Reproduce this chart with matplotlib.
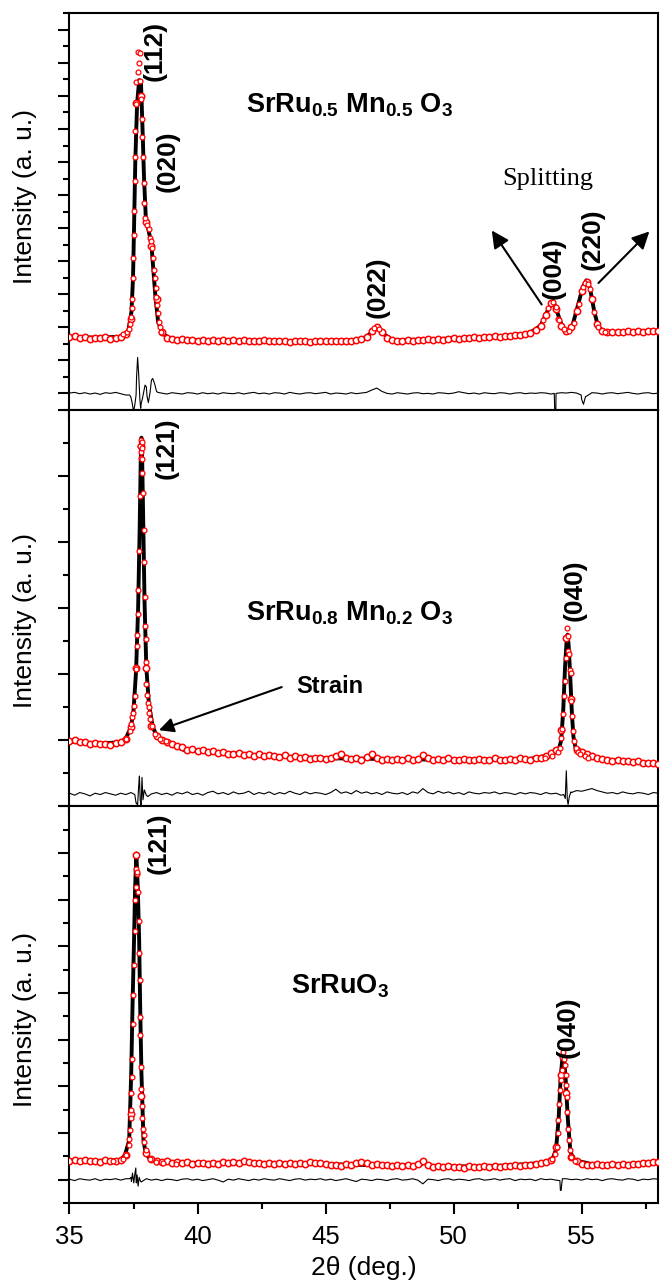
import numpy as np
import matplotlib
matplotlib.use("Agg")
import matplotlib.pyplot as plt
from matplotlib.ticker import MultipleLocator

plt.rcParams['font.family'] = ['Liberation Sans', 'DejaVu Sans']
plt.rcParams['mathtext.fontset'] = 'custom'
plt.rcParams['mathtext.rm'] = 'Liberation Sans'
plt.rcParams['mathtext.bf'] = 'Liberation Sans:bold'
plt.rcParams['mathtext.default'] = 'bf'

# 2theta sampling grid (deg), shared by the background reads of all panels
two_theta = [
    35.0, 35.2, 35.4, 35.6, 35.8, 36.0, 36.2, 36.4, 36.6, 36.8,
    37.0, 37.2, 37.4, 37.6, 37.8, 38.0, 38.2, 38.4, 38.6, 38.8,
    39.0, 39.2, 39.4, 39.6, 39.8, 40.0, 40.2, 40.4, 40.6, 40.8,
    41.0, 41.2, 41.4, 41.6, 41.8, 42.0, 42.2, 42.4, 42.6, 42.8,
    43.0, 43.2, 43.4, 43.6, 43.8, 44.0, 44.2, 44.4, 44.6, 44.8,
    45.0, 45.2, 45.4, 45.6, 45.8, 46.0, 46.2, 46.4, 46.6, 46.8,
    47.0, 47.2, 47.4, 47.6, 47.8, 48.0, 48.2, 48.4, 48.6, 48.8,
    49.0, 49.2, 49.4, 49.6, 49.8, 50.0, 50.2, 50.4, 50.6, 50.8,
    51.0, 51.2, 51.4, 51.6, 51.8, 52.0, 52.2, 52.4, 52.6, 52.8,
    53.0, 53.2, 53.4, 53.6, 53.8, 54.0, 54.2, 54.4, 54.6, 54.8,
    55.0, 55.2, 55.4, 55.6, 55.8, 56.0, 56.2, 56.4, 56.6, 56.8,
    57.0, 57.2, 57.4, 57.6, 57.8, 58.0,
]

# ---------------- SrRu0.5Mn0.5O3 (top) ----------------
mn05_obs = [
    1.70, 1.73, 1.68, 1.71, 1.66, 1.69, 1.67, 1.70, 1.66, 1.68,
    1.72, 1.80, 2.25, 8.80, 9.00, 5.20, 4.45, 2.85, 1.85, 1.68,
    1.64, 1.62, 1.65, 1.61, 1.63, 1.60, 1.62, 1.59, 1.63, 1.60,
    1.62, 1.58, 1.61, 1.59, 1.62, 1.58, 1.60, 1.57, 1.61, 1.58,
    1.60, 1.57, 1.59, 1.56, 1.60, 1.57, 1.59, 1.56, 1.58, 1.57,
    1.60, 1.57, 1.59, 1.58, 1.60, 1.59, 1.62, 1.64, 1.72, 1.90,
    2.00, 1.86, 1.68, 1.61, 1.59, 1.60, 1.62, 1.60, 1.63, 1.61,
    1.64, 1.62, 1.65, 1.63, 1.66, 1.68, 1.66, 1.69, 1.68, 1.70,
    1.69, 1.72, 1.70, 1.73, 1.72, 1.74, 1.73, 1.76, 1.77, 1.80,
    1.84, 1.92, 2.05, 2.38, 2.72, 2.55, 2.05, 1.88, 2.02, 2.50,
    3.10, 3.38, 2.85, 2.10, 1.90, 1.86, 1.85, 1.87, 1.85, 1.88,
    1.86, 1.89, 1.87, 1.90, 1.88, 1.90,
]
mn05_resid = [
    0.01, 0.03, -0.01, 0.02, -0.02, 0.01, -0.03, 0.02, 0.00, 0.03,
    -0.01, -0.05, -0.12, -0.05, -0.30, 0.20, 0.40, 0.06, 0.01, -0.02,
    0.02, 0.00, -0.02, 0.02, 0.01, -0.02, 0.02, -0.01, 0.01, -0.02,
    0.02, 0.00, -0.01, 0.02, -0.02, 0.01, 0.03, -0.01, 0.01, -0.02,
    0.02, 0.01, -0.02, 0.03, 0.00, -0.02, 0.01, 0.02, -0.01, 0.01,
    0.03, -0.02, 0.01, 0.00, -0.02, 0.02, -0.01, 0.01, 0.03, 0.10,
    0.16, 0.06, 0.00, -0.02, 0.02, 0.00, -0.02, 0.01, 0.02, -0.01,
    0.00, -0.02, 0.02, 0.01, -0.01, 0.01, 0.05, 0.02, -0.01, 0.01,
    -0.02, 0.02, 0.00, -0.01, 0.02, 0.01, -0.02, 0.01, 0.02, -0.01,
    0.01, 0.00, 0.02, 0.01, -0.02, 0.00, 0.02, 0.01, 0.03, 0.01,
    -0.18, -0.08, 0.02, 0.01, -0.02, 0.01, 0.02, -0.01, 0.01, 0.03,
    0.00, -0.02, 0.01, 0.02, -0.01, 0.01,
]
# finer reads across the reflections
mn05_peak_x = [37.10, 37.25, 37.33, 37.38, 37.41, 37.43, 37.46, 37.47, 37.48, 37.51,
               37.52, 37.54, 37.55, 37.57, 37.60, 37.61, 37.68, 37.69, 37.72, 37.74,
               37.77, 37.81, 37.83, 37.85, 37.87, 37.89, 37.91, 37.95, 38.03, 38.11,
               38.13, 38.17, 38.21, 38.26, 38.29, 38.33, 38.37, 38.39, 38.43, 38.46,
               38.50, 38.52, 38.59, 46.90, 47.10, 53.50, 53.70, 53.89, 53.98, 54.06,
               54.12, 54.30, 54.50, 54.70, 54.90, 55.06, 55.12, 55.25, 55.32, 55.49,
               55.64, 55.90]
mn05_peak_y = [1.81, 1.86, 1.96, 2.11, 2.31, 2.57, 2.87, 3.48, 4.09, 4.80,
               5.52, 6.43, 7.14, 7.95, 8.77, 9.43, 10.34, 9.73, 9.99, 10.31,
               9.46, 8.92, 8.31, 7.75, 7.14, 6.38, 5.77, 5.31, 5.11, 4.96,
               4.70, 4.60, 4.40, 4.09, 3.74, 3.48, 3.18, 2.92, 2.67, 2.42,
               2.16, 2.01, 1.86, 1.97, 1.95, 2.21, 2.57, 2.77, 2.62, 2.26,
               2.22, 1.95, 1.88, 2.12, 2.70, 3.23, 3.35, 3.30, 3.15, 2.47,
               2.01, 1.86]
mn05_fit_x = [35.0, 36.0, 37.0, 37.29, 37.42, 37.48, 37.52, 37.57, 37.64, 37.72,
              37.79, 37.85, 37.91, 37.98, 38.11, 38.20, 38.26, 38.35, 38.46, 38.65,
              39.0, 41.0, 43.0, 45.0, 46.4, 46.7, 47.0, 47.3, 47.6, 49.0,
              51.0, 52.5, 53.0, 53.4, 53.7, 53.89, 54.05, 54.25, 54.45, 54.65,
              54.85, 55.05, 55.18, 55.32, 55.50, 55.65, 55.90, 57.0, 58.0]
mn05_fit_y = [1.70, 1.69, 1.71, 1.86, 2.47, 3.48, 5.00, 7.04, 8.77, 9.48,
              9.43, 8.05, 6.53, 5.31, 4.85, 4.50, 3.89, 2.98, 2.16, 1.80,
              1.63, 1.60, 1.58, 1.58, 1.62, 1.78, 2.02, 1.78, 1.61, 1.63,
              1.70, 1.76, 1.84, 2.05, 2.55, 2.80, 2.45, 2.00, 1.88, 2.08,
              2.65, 3.23, 3.42, 3.20, 2.45, 2.00, 1.86, 1.86, 1.89]
mn05_dres_x = [37.35, 37.45, 37.50, 37.55, 37.62, 37.66, 37.70, 37.75, 37.78, 37.85,
               37.95, 38.03, 38.08, 38.15, 38.25, 38.32, 38.45, 53.93, 53.95, 53.99,
               54.01, 54.98, 55.07, 55.15]
mn05_dres_y = [-0.05, -0.30, -0.55, -0.35, 0.50, 1.09, 0.60, -0.20, -0.45, -0.15,
               0.25, -0.10, -0.28, 0.05, 0.45, 0.30, 0.03, 0.00, -0.55, -0.55,
               0.00, -0.05, -0.33, -0.10]

# ---------------- SrRu0.8Mn0.2O3 (middle) ----------------
mn02_obs = [
    0.99, 1.01, 0.97, 0.98, 0.95, 0.96, 0.94, 0.95, 0.93, 0.96,
    0.97, 1.02, 1.20, 2.10, 5.45, 2.10, 1.22, 1.07, 1.00, 0.98,
    0.95, 0.92, 0.90, 0.86, 0.87, 0.84, 0.86, 0.83, 0.84, 0.81,
    0.82, 0.80, 0.79, 0.81, 0.78, 0.80, 0.77, 0.79, 0.76, 0.78,
    0.77, 0.75, 0.78, 0.74, 0.76, 0.73, 0.75, 0.72, 0.74, 0.73,
    0.72, 0.74, 0.76, 0.80, 0.74, 0.72, 0.73, 0.71, 0.75, 0.79,
    0.74, 0.71, 0.72, 0.70, 0.72, 0.71, 0.73, 0.70, 0.72, 0.78,
    0.73, 0.70, 0.72, 0.71, 0.73, 0.70, 0.71, 0.72, 0.70, 0.71,
    0.72, 0.70, 0.71, 0.73, 0.71, 0.70, 0.72, 0.71, 0.73, 0.72,
    0.71, 0.73, 0.74, 0.77, 0.81, 0.86, 1.15, 2.55, 1.62, 0.86,
    0.83, 0.80, 0.77, 0.74, 0.72, 0.71, 0.69, 0.70, 0.68, 0.69,
    0.67, 0.68, 0.66, 0.65, 0.66, 0.64,
]
mn02_resid = [
    0.20, 0.17, 0.21, 0.19, 0.16, 0.20, 0.18, 0.21, 0.19, 0.17,
    0.20, 0.18, 0.21, 0.05, 0.02, 0.17, 0.19, 0.21, 0.18, 0.20,
    0.17, 0.21, 0.19, 0.22, 0.18, 0.20, 0.17, 0.21, 0.23, 0.19,
    0.21, 0.18, 0.22, 0.19, 0.20, 0.23, 0.18, 0.21, 0.19, 0.22,
    0.18, 0.21, 0.19, 0.23, 0.20, 0.18, 0.22, 0.19, 0.21, 0.20,
    0.18, 0.21, 0.26, 0.20, 0.22, 0.19, 0.24, 0.20, 0.22, 0.19,
    0.21, 0.18, 0.22, 0.20, 0.19, 0.21, 0.18, 0.22, 0.20, 0.27,
    0.21, 0.19, 0.23, 0.20, 0.22, 0.19, 0.21, 0.18, 0.22, 0.20,
    0.19, 0.21, 0.20, 0.22, 0.19, 0.21, 0.20, 0.18, 0.21, 0.19,
    0.21, 0.20, 0.18, 0.21, 0.19, 0.20, 0.17, 0.54, 0.21, 0.24,
    0.23, 0.25, 0.27, 0.24, 0.22, 0.20, 0.21, 0.19, 0.22, 0.20,
    0.19, 0.21, 0.20, 0.18, 0.21, 0.20,
]
mn02_peak_x = [37.22, 37.35, 37.42, 37.46, 37.48, 37.51, 37.55, 37.61, 37.64, 37.65,
               37.68, 37.69, 37.72, 37.76, 37.77, 37.78, 37.79, 37.81, 37.82, 37.83,
               37.84, 37.85, 37.86, 37.89, 37.92, 37.95, 37.96, 37.98, 37.99, 38.00,
               38.03, 38.07, 38.09, 38.12, 38.16, 38.22, 38.33, 38.52, 38.78,
               53.57, 53.83, 54.09, 54.15, 54.21, 54.25, 54.28, 54.32, 54.34, 54.37,
               54.41, 54.45, 54.47, 54.51, 54.54, 54.57, 54.60, 54.64, 54.67, 54.71,
               54.76, 54.84, 54.93, 55.12, 55.25]
mn02_peak_y = [1.02, 1.14, 1.24, 1.35, 1.42, 1.52, 1.67, 2.08, 2.43, 2.59,
               2.91, 3.28, 3.86, 4.69, 5.46, 5.55, 5.27, 5.37, 5.42, 5.52,
               5.25, 5.05, 4.74, 4.18, 3.70, 3.17, 2.73, 2.53, 2.19, 1.85,
               1.68, 1.56, 1.50, 1.42, 1.32, 1.22, 1.09, 1.02, 0.99,
               0.74, 0.77, 0.82, 0.89, 1.04, 1.17, 1.40, 1.67, 1.90, 2.25,
               2.70, 2.58, 2.35, 2.30, 2.07, 2.02, 1.60, 1.37, 1.14, 0.99,
               0.89, 0.82, 0.79, 0.77, 0.74]
mn02_fit_x = [35.0, 36.0, 37.0, 37.2, 37.4, 37.5, 37.6, 37.68, 37.74, 37.78,
              37.81, 37.84, 37.88, 37.93, 38.0, 38.1, 38.25, 38.45, 38.8, 39.5,
              41.0, 43.0, 45.0, 47.0, 49.0, 51.0, 53.0, 53.8, 54.1, 54.2,
              54.28, 54.35, 54.42, 54.45, 54.49, 54.55, 54.62, 54.68, 54.78, 55.0,
              55.5, 56.5, 58.0]
mn02_fit_y = [0.98, 0.95, 0.97, 1.03, 1.20, 1.45, 2.05, 3.00, 4.20, 5.20,
              5.58, 5.20, 4.30, 3.10, 2.10, 1.55, 1.20, 1.04, 0.97, 0.85,
              0.81, 0.76, 0.73, 0.72, 0.71, 0.71, 0.72, 0.78, 0.85, 1.00,
              1.45, 2.10, 2.55, 2.60, 2.45, 2.00, 1.40, 1.05, 0.85, 0.78,
              0.73, 0.69, 0.64]
mn02_dres_x = [37.55, 37.62, 37.66, 37.70, 37.73, 37.76, 37.79, 37.83, 37.87, 37.92,
               38.06, 54.30, 54.36, 54.44, 54.47, 54.52, 54.58]
mn02_dres_y = [0.18, 0.05, 0.02, 0.30, 0.46, 0.10, 0.02, 0.44, 0.10, 0.25,
               0.15, 0.18, 0.12, 0.10, 0.03, 0.15, 0.22]

# ---------------- SrRuO3 (bottom) ----------------
sro_obs = [
    0.41, 0.43, 0.39, 0.42, 0.40, 0.41, 0.38, 0.42, 0.39, 0.40,
    0.43, 0.52, 1.40, 6.95, 1.80, 0.58, 0.44, 0.40, 0.38, 0.39,
    0.36, 0.38, 0.35, 0.37, 0.34, 0.36, 0.35, 0.33, 0.36, 0.34,
    0.37, 0.35, 0.38, 0.36, 0.39, 0.37, 0.35, 0.36, 0.34, 0.35,
    0.33, 0.35, 0.34, 0.36, 0.33, 0.35, 0.34, 0.37, 0.35, 0.36,
    0.33, 0.31, 0.32, 0.30, 0.33, 0.32, 0.36, 0.38, 0.35, 0.32,
    0.33, 0.31, 0.32, 0.30, 0.31, 0.29, 0.32, 0.30, 0.33, 0.41,
    0.32, 0.28, 0.30, 0.27, 0.29, 0.27, 0.28, 0.26, 0.29, 0.27,
    0.28, 0.29, 0.27, 0.30, 0.28, 0.30, 0.29, 0.31, 0.30, 0.32,
    0.31, 0.33, 0.36, 0.38, 0.42, 0.70, 2.25, 1.85, 0.49, 0.40,
    0.34, 0.32, 0.31, 0.33, 0.31, 0.32, 0.33, 0.31, 0.34, 0.32,
    0.34, 0.33, 0.35, 0.36, 0.37, 0.38,
]
sro_resid = [
    0.01, -0.02, 0.02, 0.00, -0.01, 0.02, -0.02, 0.01, 0.00, 0.02,
    -0.01, 0.02, 0.05, 0.00, -0.05, 0.02, -0.01, 0.01, -0.02, 0.01,
    0.00, -0.02, 0.01, 0.02, -0.01, 0.01, -0.02, 0.00, 0.02, -0.01,
    -0.05, 0.01, -0.01, 0.02, 0.00, -0.02, 0.01, -0.01, 0.02, 0.00,
    -0.01, 0.02, 0.00, -0.02, 0.01, 0.02, -0.01, 0.01, 0.00, 0.02,
    -0.01, 0.01, -0.02, 0.00, 0.02, -0.01, -0.04, 0.01, 0.00, -0.02,
    0.01, 0.00, -0.02, 0.01, 0.02, -0.01, 0.00, 0.02, -0.01, -0.09,
    0.01, 0.00, -0.02, 0.01, 0.02, -0.01, 0.01, 0.00, -0.02, 0.01,
    0.02, -0.01, 0.00, 0.02, -0.01, 0.01, 0.02, -0.02, 0.01, 0.00,
    0.01, -0.02, 0.02, 0.00, 0.01, -0.01, -0.23, 0.02, 0.00, 0.01,
    -0.01, 0.02, 0.00, 0.01, -0.02, 0.01, 0.02, 0.00, -0.01, 0.02,
    0.01, -0.02, 0.01, 0.00, 0.02, 0.01,
]
sro_peak_x = [36.71, 37.09, 37.22, 37.31, 37.34, 37.37, 37.39, 37.41, 37.42, 37.43,
              37.46, 37.47, 37.48, 37.51, 37.54, 37.55, 37.59, 37.61, 37.64, 37.65,
              37.68, 37.70, 37.73, 37.74, 37.76, 37.77, 37.78, 37.81, 37.82, 37.83,
              37.87, 37.89, 37.91, 37.98, 38.13, 38.39, 38.65, 39.17,
              53.83, 53.96, 54.02, 54.06, 54.09, 54.12, 54.15, 54.18, 54.22, 54.25,
              54.28, 54.32, 54.35, 54.37, 54.38, 54.41, 54.44, 54.47, 54.50, 54.54,
              54.60, 54.73]
sro_peak_y = [0.41, 0.45, 0.52, 0.74, 0.88, 1.06, 1.33, 1.50, 1.86, 2.19,
              2.59, 3.34, 3.95, 4.61, 5.34, 5.99, 6.27, 6.66, 6.56, 6.59,
              6.16, 5.54, 4.86, 4.27, 3.49, 3.11, 2.41, 1.95, 1.57, 1.33,
              1.09, 0.95, 0.81, 0.63, 0.45, 0.38, 0.36, 0.34,
              0.45, 0.56, 0.70, 0.99, 1.27, 1.63, 1.92, 2.13, 2.34, 2.63,
              2.74, 2.59, 2.45, 2.24, 2.02, 1.77, 1.45, 1.09, 0.84, 0.63,
              0.49, 0.41]
sro_fit_x = [35.0, 36.0, 37.0, 37.16, 37.33, 37.41, 37.46, 37.52, 37.56, 37.61,
             37.67, 37.72, 37.76, 37.81, 37.89, 37.98, 38.2, 39.0, 41.0, 43.0,
             45.0, 47.0, 48.7, 48.85, 49.0, 50.0, 52.0, 53.5, 53.85, 54.0,
             54.10, 54.18, 54.28, 54.37, 54.46, 54.56, 54.7, 55.5, 57.0, 58.0]
sro_fit_y = [0.41, 0.40, 0.42, 0.52, 0.84, 2.27, 3.70, 5.13, 6.20, 6.99,
             6.20, 5.13, 3.70, 2.27, 0.84, 0.55, 0.42, 0.36, 0.36, 0.35,
             0.33, 0.31, 0.31, 0.38, 0.30, 0.28, 0.30, 0.36, 0.42, 0.65,
             1.30, 2.20, 2.78, 2.20, 1.30, 0.60, 0.42, 0.32, 0.34, 0.38]
sro_dres_x = [37.35, 37.42, 37.46, 37.51, 37.55, 37.59, 37.61, 37.64, 37.68, 37.72,
              37.77, 54.15, 54.17, 54.22, 54.25]
sro_dres_y = [0.02, -0.04, 0.14, -0.07, 0.12, 0.25, -0.07, 0.10, -0.14, 0.05,
              -0.03, -0.02, -0.23, -0.10, 0.02]

panels = [
    dict(obs=mn05_obs, res=mn05_resid, px=mn05_peak_x, py=mn05_peak_y,
         fx=mn05_fit_x, fy=mn05_fit_y, rx=mn05_dres_x, ry=mn05_dres_y,
         ylim=(-0.5, 11.5), label_y=0.538),
    dict(obs=mn02_obs, res=mn02_resid, px=mn02_peak_x, py=mn02_peak_y,
         fx=mn02_fit_x, fy=mn02_fit_y, rx=mn02_dres_x, ry=mn02_dres_y,
         ylim=(0, 6), label_y=0.47),
    dict(obs=sro_obs, res=sro_resid, px=sro_peak_x, py=sro_peak_y,
         fx=sro_fit_x, fy=sro_fit_y, rx=sro_dres_x, ry=sro_dres_y,
         ylim=(-0.5, 8), label_y=0.462),
]

fig = plt.figure(figsize=(6.6, 12.84), dpi=100)
gs = fig.add_gridspec(3, 1, left=0.1053, right=0.9977, top=0.9896,
                      bottom=0.0631, hspace=0)
axes = [fig.add_subplot(gs[i]) for i in range(3)]

obs_style = dict(ls='none', marker='o', mfc='white', mec='#ff0000', zorder=3)

for ax, p in zip(axes, panels):
    ax.plot(p['fx'], p['fy'], color='black', lw=2.8, zorder=2)
    # background scan points drawn a bit larger so they merge into a band
    ax.plot(two_theta, p['obs'], ms=4.6, mew=1.1, **obs_style)
    ax.plot(p['px'], p['py'], ms=3.5, mew=0.9, **obs_style)
    rx = np.concatenate([two_theta, p['rx']])
    ry = np.concatenate([p['res'], p['ry']])
    order = np.argsort(rx, kind='stable')
    ax.plot(rx[order], ry[order], color='black', lw=0.8, zorder=2)

    ax.set_xlim(35, 58)
    ax.set_ylim(*p['ylim'])
    ax.xaxis.set_major_locator(MultipleLocator(5))
    ax.xaxis.set_minor_locator(MultipleLocator(2.5))
    ax.yaxis.set_major_locator(MultipleLocator(1))
    ax.yaxis.set_minor_locator(MultipleLocator(0.5))
    ax.tick_params(which='both', direction='out', width=1.5, left=True,
                   right=False, top=False, bottom=True, labelleft=False,
                   labelsize=18.5, pad=8)
    ax.tick_params(which='major', length=8)
    ax.tick_params(which='minor', length=4.5)
    for s in ax.spines.values():
        s.set_linewidth(1.5)
    ax.set_ylabel('Intensity (a. u.)', fontsize=19)
    ax.yaxis.set_label_coords(-0.055, p['label_y'])

for ax in axes[:2]:
    ax.tick_params(labelbottom=False)
axes[2].set_xlabel('2θ (deg.)', fontsize=19, labelpad=5)

hkl = dict(rotation=90, ha='center', va='center', fontsize=19, fontweight='bold')
form = dict(ha='left', va='baseline', fontsize=19.5, fontweight='bold')

a0, a1, a2 = axes
a0.text(38.33, 10.36, '(112)', **hkl)
a0.text(38.84, 7.04, '(020)', **hkl)
a0.text(47.04, 3.20, '(022)', **hkl)
a0.text(53.89, 3.78, '(004)', **hkl)
a0.text(55.41, 4.66, '(220)', **hkl)
a0.text(41.91, 8.50, 'SrRu$_{0.5}$ Mn$_{0.5}$ O$_3$', **form)
a0.text(53.66, 6.49, 'Splitting', ha='center', va='center', fontsize=19,
        family=['Liberation Serif', 'DejaVu Serif'])
arrow = dict(arrowstyle='-|>', color='black', lw=1.5, mutation_scale=26)
a0.annotate('', xy=(51.43, 5.0), xytext=(53.50, 2.62), arrowprops=arrow)
a0.annotate('', xy=(57.72, 4.96), xytext=(55.58, 3.28), arrowprops=arrow)

a1.text(38.79, 5.42, '(121)', **hkl)
a1.text(54.71, 3.27, '(040)', **hkl)
a1.text(41.91, 2.81, 'SrRu$_{0.8}$ Mn$_{0.2}$ O$_3$', **form)
a1.text(43.84, 1.72, 'Strain', ha='left', va='baseline', fontsize=17,
        fontweight='bold')
a1.annotate('', xy=(38.39, 1.14), xytext=(43.39, 1.82),
            arrowprops=dict(arrowstyle='-|>', color='black', lw=1.5,
                            mutation_scale=22))

a2.text(38.48, 7.21, '(121)', **hkl)
a2.text(54.44, 3.26, '(040)', **hkl)
a2.text(43.66, 3.99, 'SrRuO$_3$', **form)

fig.savefig('out.png', dpi=100)
